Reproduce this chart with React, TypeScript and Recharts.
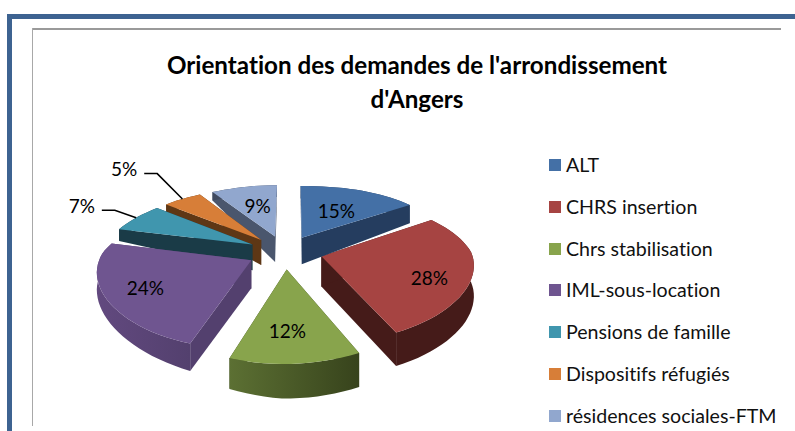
import { PieChart, Pie, Legend } from "recharts";

const NAMES = [
  "ALT",
  "CHRS insertion",
  "Chrs stabilisation",
  "IML-sous-location",
  "Pensions de famille",
  "Dispositifs réfugiés",
  "résidences sociales-FTM",
];
const VALUES = [15, 28, 12, 24, 7, 5, 9];
const TOP_COLORS = ["#4470a6", "#a64442", "#88a44c", "#6f5590", "#4096ae", "#d77e38", "#91a7ce"];
const WALL_LEFT = ["#253d5f", "#451b19", "#5c7033", "#62497f", "#1a3b47", "#5e3715", "#3f4a5f"];
const WALL_RIGHT = ["#253d5f", "#451b19", "#37431c", "#53406e", "#1a3b47", "#5e3715", "#4a566d"];
const LABEL_RADIUS = [0.55, 0.72, 0.7, 0.74, 1.53, 1.95, 0.52];
const LABEL_DX = [0, 0, -5, 0, 0, 0, 0];
const LABEL_DY = [0, 8, 0, 0, 0, 0, -3];
const TITLE_LINES = ["Orientation des demandes de l'arrondissement", "d'Angers"];

const FONT = "Lato, 'Open Sans', sans-serif";
const CX = 285;
const CY = 252;
const RADIUS = 150;
const TILT = 0.448;
const PERSPECTIVE = 0.2;
const EXPLODE = 0.25;

// drawn back to front: reversed data swept the other way round keeps every slice in place
const data = NAMES.map((name, i) => ({ name, value: VALUES[i], fill: TOP_COLORS[i] })).reverse();

// model coords: unit disk, y pointing to the back of the pie
function project(mx: number, my: number, bottom = false) {
  const s = 1 / (1 + PERSPECTIVE * my);
  const sx = my < 0 ? Math.pow(s, 0.6) : s;
  // walls get thinner towards the back and on the left, as in the picture
  const depth = (30 - 11 * Math.max(0, -mx) - 13 * Math.max(0, my)) * Math.sqrt(s);
  const shear = my < 0 ? 3 * my : (mx > 0 ? 7 : 2) * my * Math.min(1, Math.abs(mx) * 2);
  return {
    x: CX + mx * RADIUS * sx + shear,
    y: CY - my * RADIUS * TILT * s + (bottom ? depth : 0),
  };
}

function polar(deg: number, r: number, mid: number) {
  const a = (deg * Math.PI) / 180;
  const m = (mid * Math.PI) / 180;
  return [r * Math.sin(a) + EXPLODE * Math.sin(m), r * Math.cos(a) + EXPLODE * Math.cos(m)];
}

const toPath = (pts: { x: number; y: number }[]) =>
  pts.map((p, i) => `${i ? "L" : "M"}${p.x.toFixed(1)},${p.y.toFixed(1)}`).join(" ") + " Z";

function Slice3D(props: any) {
  const i = NAMES.indexOf(props.payload?.name ?? props.name);
  // recharts angles are counted from 3 o'clock, ours from the top
  const from = 90 - props.startAngle;
  const to = 90 - props.endAngle;
  const mid = (from + to) / 2;
  const steps = Math.ceil(Math.abs(to - from) / 3);

  const top: { x: number; y: number }[] = [];
  const low: { x: number; y: number }[] = [];
  for (let k = 0; k <= steps; k++) {
    const deg = from + ((to - from) * k) / steps;
    const [mx, my] = polar(deg, 1, mid);
    top.push(project(mx, my));
    low.push(project(mx, my, true));
  }
  const [ax, ay] = polar(0, 0, mid);
  const apex = project(ax, ay);
  const apexLow = project(ax, ay, true);
  const gradId = `wall-${i}`;

  return (
    <g>
      <defs>
        <linearGradient id={gradId} x1="0" y1="0" x2="1" y2="0">
          <stop offset="0%" stopColor={WALL_LEFT[i]} />
          <stop offset="100%" stopColor={WALL_RIGHT[i]} />
        </linearGradient>
      </defs>
      <path d={toPath([apex, top[0], low[0], apexLow])} fill={WALL_RIGHT[i]} />
      <path d={toPath([apex, top[steps], low[steps], apexLow])} fill={WALL_RIGHT[i]} />
      <path d={toPath([...top, ...[...low].reverse()])} fill={`url(#${gradId})`} />
      <path d={toPath([apex, ...top])} fill={TOP_COLORS[i]} />
    </g>
  );
}

function renderLabel(props: any) {
  const i = NAMES.indexOf(props.name);
  const mid = 90 - props.midAngle;
  const [lx, ly] = polar(mid, LABEL_RADIUS[i], mid);
  const p = project(lx, ly);
  const px = p.x + LABEL_DX[i];
  const py = p.y + LABEL_DY[i];
  let leader = null;
  if (LABEL_RADIUS[i] > 1) {
    const [ex, ey] = polar(mid, 1, mid);
    const e = project(ex, ey);
    leader = (
      <polyline
        points={`${px + 20},${py + 5} ${px + 33},${py + 5} ${e.x},${e.y}`}
        fill="none"
        stroke="#000"
        strokeWidth={1.5}
      />
    );
  }
  return (
    <g>
      {leader}
      <text
        x={px}
        y={py}
        textAnchor="middle"
        dominantBaseline="central"
        fontFamily={FONT}
        fontSize={19}
        fill="#000"
      >
        {`${props.value}%`}
      </text>
    </g>
  );
}

function LegendList() {
  return (
    <div>
      {NAMES.map((name, i) => (
        <div key={name} style={{ height: 41.75, display: "flex", alignItems: "flex-start" }}>
          <span
            style={{
              width: 12,
              height: 12,
              marginTop: 4,
              marginRight: 5,
              background: TOP_COLORS[i],
              flex: "none",
            }}
          />
          <span
            style={{
              fontFamily: FONT,
              fontSize: 19.6,
              lineHeight: "20px",
              color: "#111",
              whiteSpace: "nowrap",
              fontVariantLigatures: "none",
            }}
          >
            {name}
          </span>
        </div>
      ))}
    </div>
  );
}

export default function App() {
  return (
    <div style={{ position: "absolute", left: 0, top: 0, width: 795, height: 431, overflow: "hidden", background: "#fff" }}>
      <div style={{ position: "absolute", left: 7, top: 14, width: 788, height: 5, background: "#3d6391" }} />
      <div style={{ position: "absolute", left: 7, top: 14, width: 5, height: 417, background: "#3d6391" }} />
      <div style={{ position: "absolute", left: 32, top: 28, width: 749, height: 2, background: "#9a9a9a" }} />
      <div style={{ position: "absolute", left: 32, top: 28, width: 1, height: 398, background: "#a8a8a8" }} />
      <div
        style={{
          position: "absolute",
          left: 117,
          top: 48,
          width: 600,
          textAlign: "center",
          fontFamily: FONT,
          fontWeight: 700,
          fontSize: 24.2,
          lineHeight: "34px",
          color: "#000",
          fontVariantLigatures: "none",
        }}
      >
        {TITLE_LINES.map((line) => (
          <div key={line}>{line}</div>
        ))}
      </div>
      <PieChart width={795} height={431} style={{ position: "absolute", left: 0, top: 0 }}>
        <Pie
          data={data}
          dataKey="value"
          nameKey="name"
          cx={CX}
          cy={CY}
          outerRadius={RADIUS}
          startAngle={90}
          endAngle={450}
          stroke="none"
          shape={Slice3D}
          label={renderLabel}
          labelLine={false}
          isAnimationActive={false}
        />
        <Legend
          content={<LegendList />}
          wrapperStyle={{ position: "absolute", left: 549, top: 155, width: 240, bottom: "auto", right: "auto" }}
        />
      </PieChart>
    </div>
  );
}
